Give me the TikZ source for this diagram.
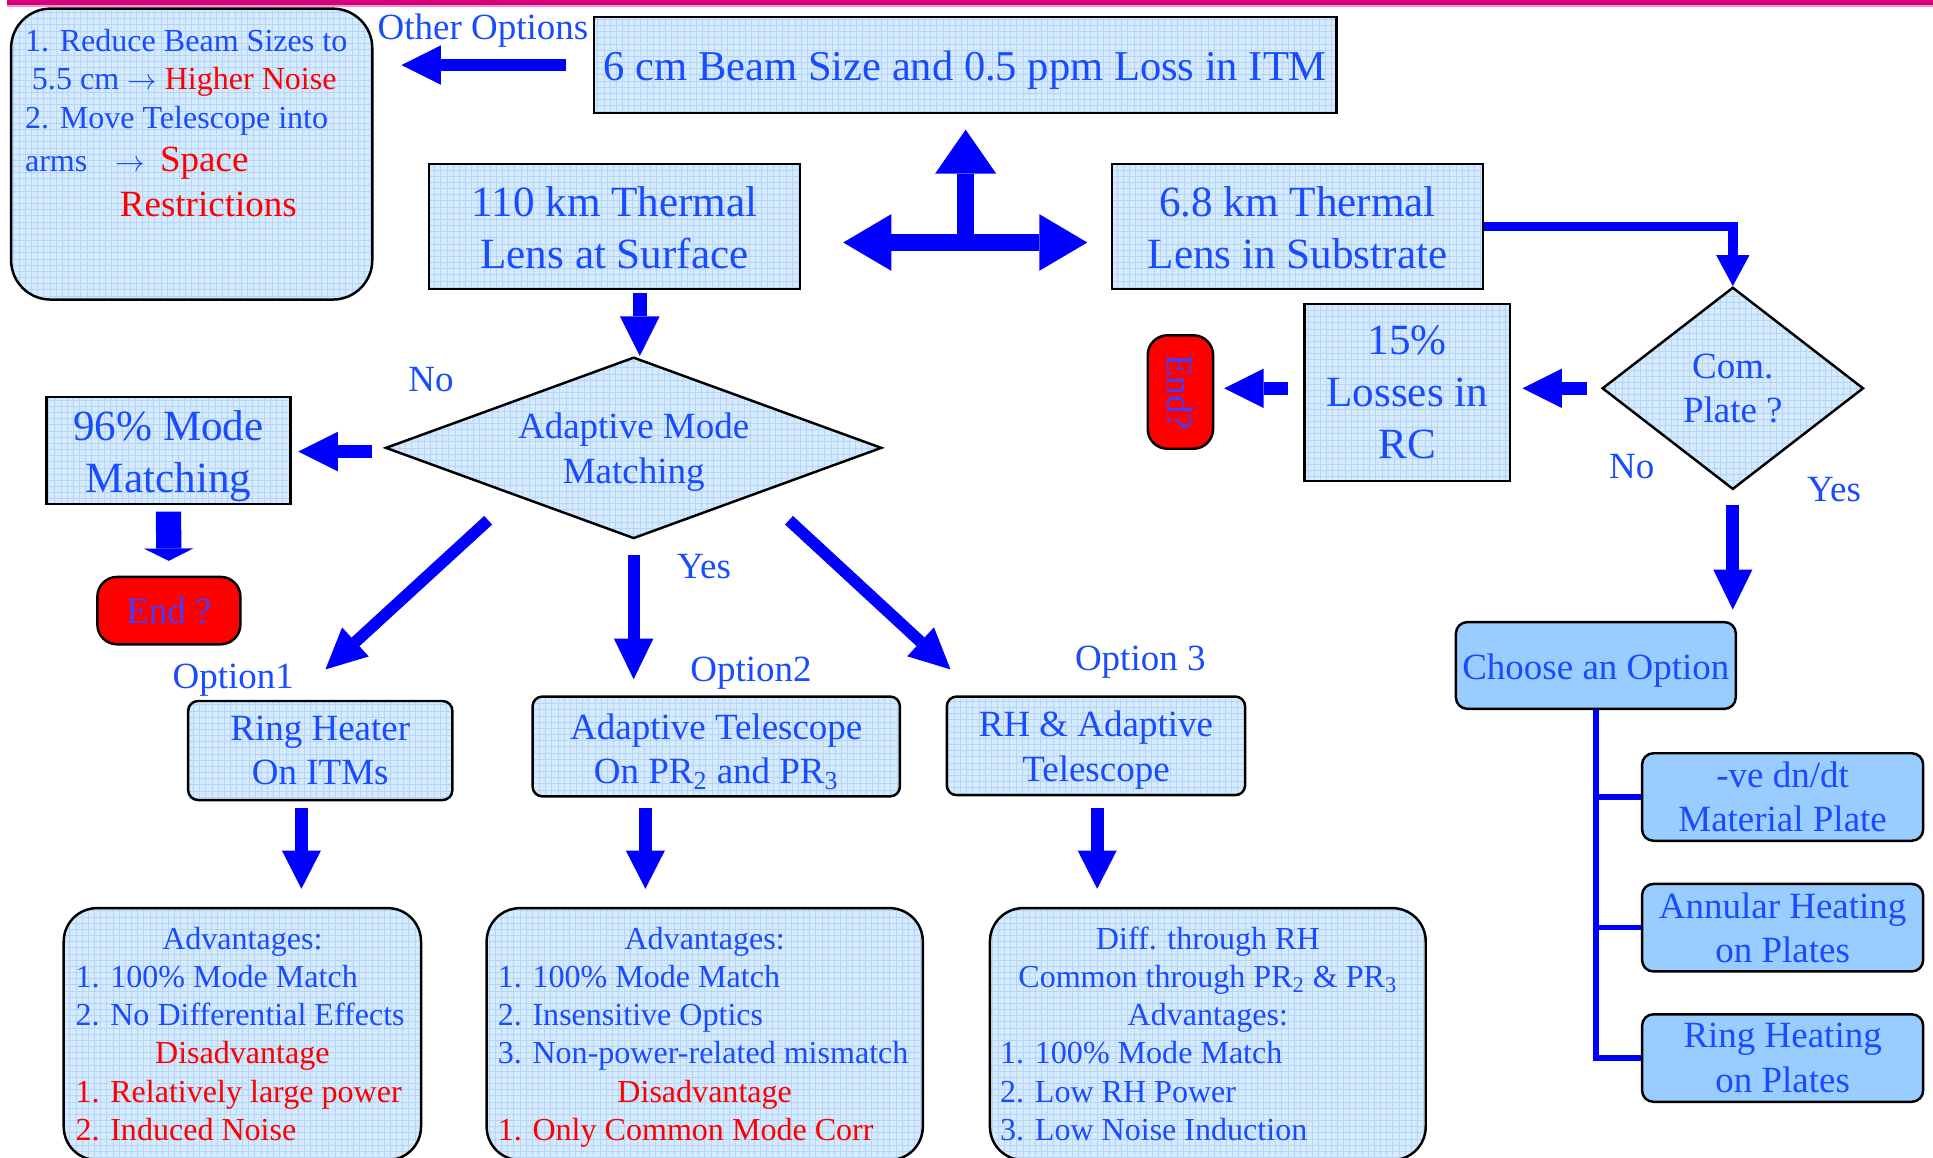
\documentclass[tikz,border=0pt]{standalone}
\usepackage{fontspec}
\usepackage{graphicx}
\setmainfont{Liberation Serif}
\usetikzlibrary{arrows.meta,shapes.geometric}
\definecolor{arrowblue}{RGB}{0,0,255}
\definecolor{txtblue}{RGB}{25,75,255}
\definecolor{endblue}{RGB}{70,60,255}
\definecolor{boxfill}{RGB}{214,234,253}
\definecolor{gridcol}{RGB}{180,213,245}
\definecolor{choosefill}{RGB}{153,204,255}
\definecolor{barmag}{RGB}{214,0,122}
\definecolor{barpink}{RGB}{238,150,215}
\definecolor{redtxt}{RGB}{255,0,0}
\newcommand\fA{\fontsize{21}{25.2}\selectfont}
\newcommand\fB{\fontsize{18}{21.6}\selectfont}
\newcommand\fC{\fontsize{15.6}{18.6}\selectfont}
\newcommand\dn[1]{\rule{0pt}{\dimexpr0.7em+#1\relax}}
\tikzset{
  gridfill/.style={fill=boxfill, path picture={\draw[gridcol, line width=0.3pt, step=3pt] (path picture bounding box.south west) grid (path picture bounding box.north east);}},
  sq/.style={rectangle, draw=black, line width=1.2pt, inner sep=0pt, gridfill, text=txtblue, align=center},
  rsq/.style={sq, rounded corners=#1},
  dia/.style={diamond, draw=black, line width=1.2pt, inner sep=0pt, gridfill, text=txtblue, align=center},
  chs/.style={rectangle, rounded corners=5.5pt, draw=black, line width=1.2pt, inner sep=0pt, fill=choosefill, text=txtblue, align=center, font=\fB},
  endn/.style={rectangle, rounded corners=9.6pt, draw=black, line width=1.2pt, fill=redtxt, text=endblue, inner sep=0pt, font=\fB},
  lbl/.style={inner sep=0pt, text=txtblue, font=\fB, anchor=base west},
  ltx/.style={inner sep=0pt, text=txtblue, font=\fC, anchor=base west},
  ctx/.style={inner sep=0pt, text=txtblue, font=\fC, anchor=base},
  blk/.style n args={3}{draw=arrowblue, line width=#1, -{Triangle[length=#2, width=#3, line width=0pt]}},
  dbl/.style={draw=arrowblue, line width=8.2pt, {Triangle[length=23.4pt, width=27.6pt, line width=0pt]}-{Triangle[length=23.4pt, width=27.6pt, line width=0pt]}},
  tree/.style={draw=arrowblue, line width=2.6pt},
}
\begin{document}
\begin{tikzpicture}[x=0.6pt, y=-0.6pt]
\useasboundingbox (0,0) rectangle (1568,939);
% top bar
\fill[barmag] (6,0) rectangle (1568,4);
\fill[barpink] (6,4) rectangle (1568,5.5);

% top-left box
\node[rsq=19.2pt, minimum width=175.8pt, minimum height=141.6pt] (tl) at (155.5,125) {};
\node[ltx] (tl1) at (20,41.4) {1. Reduce Beam Sizes to};
\node[ltx] (tl2) at (25.6,72.5) {5.5 cm $\rightarrow$ \textcolor{redtxt}{Higher Noise}};
\node[ltx] (tl3) at (20,104) {2. Move Telescope into};
\node[ltx] (tl4) at (20,139) {arms\hspace{13.5pt}$\rightarrow$\hspace{7.5pt}{\color{redtxt}\fB Space}};
\node[ltx, text=redtxt, font=\fB] (tl5) at (97,176) {Restrictions};
\node[lbl] (oo) at (306,32) {Other Options};

% top row
\node[sq, minimum width=361.2pt, minimum height=46.5pt, font=\fontsize{20.7}{24}\selectfont] (top) at (783,52.75) {\dn{5.4pt}6 cm Beam Size and 0.5 ppm Loss in ITM};
\node[sq, minimum width=180.6pt, minimum height=60.9pt, font=\fA] (surf) at (498.5,183.75) {\dn{1.2pt}110 km Thermal\\Lens at Surface};
\node[sq, minimum width=180.6pt, minimum height=60.9pt, font=\fA] (sub) at (1052.5,183.75) {\dn{1.2pt}6.8 km Thermal\\Lens in Substrate};

% right branch
\node[dia, minimum width=127.2pt, minimum height=98.4pt, aspect=1.29, font=\fB] (com) at (1405.6,315) {Com.\\Plate ?};
\node[sq, minimum width=100.2pt, minimum height=86pt, font=\fA] (rc) at (1141.5,318.3) {15\%\\Losses in\\RC};
\node[endn, minimum width=31.8pt, minimum height=55.2pt] (end2) at (957.5,318) {\rotatebox{-90}{End?}};
\node[lbl] (no2) at (1305,388) {No};
\node[lbl] (yes2) at (1465.5,406.5) {Yes};
\node[chs, minimum width=136.2pt, minimum height=42.2pt] (choose) at (1294.5,539.8) {\dn{4.7pt}Choose an Option};
\node[chs, minimum width=136.8pt, minimum height=42.6pt] (c1) at (1446,646.5) {-ve dn/dt\\Material Plate};
\node[chs, minimum width=136.8pt, minimum height=42.6pt] (c2) at (1446,752.5) {Annular Heating\\on Plates};
\node[chs, minimum width=136.8pt, minimum height=42.6pt] (c3) at (1446,858.25) {Ring Heating\\on Plates};

% left branch
\node[sq, minimum width=118.6pt, minimum height=52.2pt, font=\fA] (mm) at (136.65,365.5) {\dn{5.4pt}96\% Mode\\Matching};
\node[dia, minimum width=241.5pt, minimum height=88.3pt, aspect=2.73, font=\fB] (adm) at (514,363.3) {\dn{4.2pt}Adaptive Mode\\Matching};
\node[endn, minimum width=69.6pt, minimum height=32.8pt] (end1) at (137,495.3) {End ?};
\node[lbl] (nol) at (331,317.7) {No};
\node[lbl] (yesl) at (549,469) {Yes};
\node[lbl] (op1) at (139.7,558.5) {Option1};
\node[lbl] (op2) at (559.7,552.5) {Option2};
\node[lbl] (op3) at (871.7,544) {Option 3};

% option boxes
\node[rsq=4.8pt, minimum width=128.6pt, minimum height=48.2pt, font=\fB] (rh) at (259.8,608.8) {Ring Heater\\On ITMs};
\node[rsq=4.8pt, minimum width=178.8pt, minimum height=48.6pt, font=\fB] (at) at (581,605.5) {\dn{4.8pt}Adaptive Telescope\\On PR\textsubscript{2} and PR\textsubscript{3}};
\node[rsq=4.8pt, minimum width=145.2pt, minimum height=48pt, font=\fB] (rha) at (889,605) {\dn{4.2pt}RH \& Adaptive\\Telescope};

% bottom boxes
\node[rsq=16.2pt, minimum width=173.9pt, minimum height=122.6pt] (bA) at (196.6,838.8) {};
\node[rsq=16.2pt, minimum width=212.3pt, minimum height=122.6pt] (bB) at (571.65,838.8) {};
\node[rsq=16.2pt, minimum width=212.1pt, minimum height=122.6pt] (bC) at (979.75,838.8) {};

\node[ctx] (a1) at (196.6,770) {Advantages:};
\node[ltx] (a2) at (61,801) {1. 100\% Mode Match};
\node[ltx] (a3) at (61,832) {2. No Differential Effects};
\node[ctx, text=redtxt] (a4) at (196.6,863) {Disadvantage};
\node[ltx, text=redtxt] (a5) at (61,894) {1. Relatively large power};
\node[ltx, text=redtxt] (a6) at (61,925) {2. Induced Noise};

\node[ctx] (b1) at (571.6,770) {Advantages:};
\node[ltx] (b2) at (403.5,801) {1. 100\% Mode Match};
\node[ltx] (b3) at (403.5,832) {2. Insensitive Optics};
\node[ltx] (b4) at (403.5,863) {3. Non-power-related mismatch};
\node[ctx, text=redtxt] (b5) at (571.6,894) {Disadvantage};
\node[ltx, text=redtxt] (b6) at (403.5,925) {1. Only Common Mode Corr};

\node[ctx] (e1) at (979.75,770) {Diff. through RH};
\node[ctx] (e2) at (979.75,801) {Common through PR\textsubscript{2} \& PR\textsubscript{3}};
\node[ctx] (e3) at (979.75,832) {Advantages:};
\node[ltx] (e4) at (811,863) {1. 100\% Mode Match};
\node[ltx] (e5) at (811,894) {2. Low RH Power};
\node[ltx] (e6) at (811,925) {3. Low Noise Induction};

% connectors
\draw[blk={6.2pt}{19.2pt}{19.2pt}, shorten <=13.2pt, shorten >=13.6pt] (top.west) -- (top.west -| tl.east);
\coordinate (tj) at (783.3,196.7);
\draw[dbl, shorten <=20.4pt, shorten >=11.4pt] (tj -| surf.east) -- (tj -| sub.west);
\draw[blk={8.4pt}{21.4pt}{29.7pt}, shorten >=7.6pt] (tj) -- (tj |- top.south);
\draw[blk={6.8pt}{19.2pt}{19.2pt}, shorten <=1.3pt] ([xshift=3pt]surf.south -| adm.north) -- ([xshift=3pt]adm.north);
\draw[blk={6pt}{19.2pt}{19.2pt}, shorten <=6pt, shorten >=3.3pt] ([yshift=-1.8pt]adm.west) -- ([yshift=-1.8pt]adm.west -| mm.east);
\draw[blk={12.3pt}{6pt}{24pt}, shorten <=3pt, shorten >=7.2pt] (mm.south) -- (end1.north);
\coordinate (d1s) at (396,422);
\coordinate (d1e) at (264,543);
\coordinate (d3s) at (640,422);
\coordinate (d3e) at (771,543);
\draw[blk={5.7pt}{19.8pt}{19.2pt}] (d1s) -- (d1e);
\draw[blk={5.7pt}{19.8pt}{19.2pt}, shorten <=7.5pt, shorten >=7.8pt] (adm.south) -- (adm.south |- at.north);
\draw[blk={5.7pt}{19.8pt}{19.2pt}] (d3s) -- (d3e);
\coordinate (o1) at (244.5,655.6);
\coordinate (o2) at (523.5,655.6);
\coordinate (o3) at (890,655.6);
\draw[blk={6.2pt}{18.6pt}{19pt}, shorten >=8.8pt] (o1) -- (o1 |- bA.north);
\draw[blk={6.2pt}{18.6pt}{19pt}, shorten >=8.8pt] (o2) -- (o2 |- bB.north);
\draw[blk={6.2pt}{18.6pt}{19pt}, shorten >=8.8pt] (o3) -- (o3 |- bC.north);
\draw[blk={4.8pt}{15pt}{16.2pt}] (sub.east) -| (com.north);
\draw[blk={6.6pt}{19.2pt}{19.2pt}, shorten <=7pt, shorten >=5.4pt] (com.west) -- (com.west -| rc.east);
\draw[blk={6.6pt}{19.2pt}{19.2pt}, shorten <=7.2pt, shorten >=4.8pt] (com.west -| rc.west) -- (com.west -| end2.east);
\draw[blk={6.3pt}{19.4pt}{19pt}, shorten <=7.2pt, shorten >=5.5pt] (com.south) -- (com.south |- choose.north);
\draw[tree] (choose.south) -- (choose.south |- c3.west) -- (c3.west);
\draw[tree] (choose.south |- c1.west) -- (c1.west);
\draw[tree] (choose.south |- c2.west) -- (c2.west);
\end{tikzpicture}
\end{document}
